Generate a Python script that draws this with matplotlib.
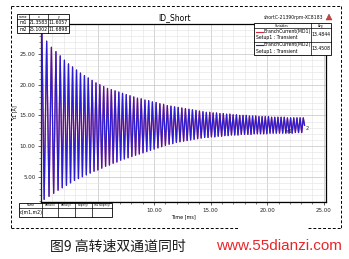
import matplotlib
matplotlib.use("Agg")
import matplotlib.pyplot as plt
from matplotlib.patches import Rectangle, Polygon
from matplotlib.ticker import MultipleLocator, FormatStrFormatter
import numpy as np

# ---------------------------------------------------------------------------
# Data (BranchCurrent, A vs. time, ms)
# ---------------------------------------------------------------------------
peak_t = [0.05, 0.50, 0.92, 1.32, 1.70, 2.07, 2.43, 2.79, 3.14, 3.49,
          3.84, 4.18, 4.52, 4.86, 5.20, 5.54, 5.88, 6.22, 6.55, 6.88,
          7.21, 7.54, 7.87, 8.20, 8.53, 8.86, 9.19, 9.52, 9.85, 10.18,
          10.51, 10.84, 11.17, 11.49, 11.81, 12.13, 12.45, 12.77, 13.08, 13.39,
          13.70, 14.01, 14.32, 14.62, 14.92, 15.22, 15.52, 15.82, 16.12, 16.41,
          16.70, 16.99, 17.28, 17.57, 17.86, 18.15, 18.43, 18.71, 18.99, 19.27,
          19.55, 19.83, 20.11, 20.39, 20.67, 20.95, 21.23, 21.51, 21.79, 22.07,
          22.35, 22.63, 22.91, 23.19]
peak_v = [33.0, 27.1, 26.1, 25.4, 24.7, 24.0, 23.4, 22.9, 22.4, 21.9,
          21.5, 21.1, 20.7, 20.3, 20.0, 19.7, 19.4, 19.2, 19.0, 18.8,
          18.6, 18.4, 18.2, 18.0, 17.8, 17.7, 17.5, 17.4, 17.2, 17.1,
          16.9, 16.8, 16.6, 16.5, 16.4, 16.3, 16.2, 16.1, 16.0, 15.9,
          15.8, 15.7, 15.6, 15.5, 15.5, 15.4, 15.4, 15.3, 15.3, 15.2,
          15.2, 15.1, 15.1, 15.0, 15.0, 15.0, 14.9, 14.9, 14.9, 14.8,
          14.8, 14.8, 14.8, 14.7, 14.7, 14.7, 14.7, 14.7, 14.6, 14.6,
          14.6, 14.6, 14.6, 14.6]
trough_t = [0.28, 0.71, 1.12, 1.51, 1.88, 2.25, 2.61, 2.96, 3.31, 3.66,
            4.01, 4.35, 4.69, 5.03, 5.37, 5.71, 6.05, 6.38, 6.71, 7.04,
            7.37, 7.70, 8.03, 8.36, 8.69, 9.02, 9.35, 9.68, 10.01, 10.34,
            10.67, 11.00, 11.33, 11.65, 11.97, 12.29, 12.61, 12.92, 13.23, 13.54,
            13.85, 14.16, 14.47, 14.77, 15.07, 15.37, 15.67, 15.97, 16.26, 16.55,
            16.84, 17.13, 17.42, 17.71, 18.00, 18.29, 18.57, 18.85, 19.13, 19.41,
            19.69, 19.97, 20.25, 20.53, 20.81, 21.09, 21.37, 21.65, 21.93, 22.21,
            22.49, 22.77, 23.05, 23.30]
trough_v = [1.3, 1.8, 2.3, 2.8, 3.2, 3.6, 4.0, 4.4, 4.7, 5.0,
            5.3, 5.6, 5.9, 6.1, 6.4, 6.7, 6.9, 7.2, 7.4, 7.7,
            7.9, 8.1, 8.3, 8.5, 8.7, 8.9, 9.1, 9.3, 9.5, 9.7,
            9.9, 10.1, 10.3, 10.4, 10.6, 10.7, 10.8, 10.9, 11.0, 11.1,
            11.2, 11.3, 11.4, 11.4, 11.5, 11.5, 11.6, 11.6, 11.7, 11.7,
            11.8, 11.8, 11.8, 11.9, 11.9, 11.9, 11.9, 12.0, 12.0, 12.0,
            12.0, 12.0, 12.1, 12.1, 12.1, 12.1, 12.1, 12.1, 12.1, 12.1,
            12.2, 12.2, 12.2, 13.4]
start_t, start_v = 0.0, 1.0

marker_names = ["m1", "m2"]
marker_x = ["21.3583", "25.1002"]
marker_y = ["11.6057", "11.6898"]
marker_pos = [(21.5, 12.3), (23.4, 12.9)]   # where the marker tags sit on the trace

trace_names = ["BranchCurrent(MD1)", "BranchCurrent(MD2)"]
trace_setup = ["Setup1 : Transient", "Setup1 : Transient"]
trace_avg = ["13.4844", "13.4508"]
trace_colors = ["#d8283a", "#1c1ce0"]

delta_cols = ["Name", "delta(x)", "delta(y)", "slope(y)", "inv slope(y)"]
delta_row = ["d(m1,m2)"]

plot_title = "ID_Short"
design_tag = "shortC-21390rpm-XC8183"
caption = "图9 高转速双通道同时"
watermark = "www.55dianzi.com"

# build the trace: start point then alternating peak / trough
t = np.concatenate([[start_t], np.ravel(np.column_stack([peak_t, trough_t]))])
v = np.concatenate([[start_v], np.ravel(np.column_stack([peak_v, trough_v]))])

# ---------------------------------------------------------------------------
# Figure
# ---------------------------------------------------------------------------
W, H = 349, 259
fig = plt.figure(figsize=(W / 100, H / 100), dpi=100)
fig.patch.set_facecolor("white")

ax = fig.add_axes([41 / W, 1 - 202 / H, (326 - 41) / W, (202 - 24) / H])
# MD1 and MD2 lie on top of each other; MD2 (blue) is drawn last
ax.plot(t, v, color=trace_colors[0], lw=0.9, zorder=2)
ax.plot(t, v, color=trace_colors[1], lw=0.9, alpha=0.92, zorder=3)
for name, (mx, my) in zip(marker_names, marker_pos):
    ax.text(mx, my, name if name == "m1" else name[-1], fontsize=3.5,
            color="#202020", ha="left", va="center", zorder=4)

ax.set_xlim(0, 25.2)
ax.set_ylim(0.88, 29.9)
ax.xaxis.set_major_locator(MultipleLocator(5))
ax.xaxis.set_minor_locator(MultipleLocator(1))
ax.yaxis.set_major_locator(MultipleLocator(5))
ax.yaxis.set_minor_locator(MultipleLocator(1))
ax.xaxis.set_major_formatter(FormatStrFormatter("%.2f"))
ax.yaxis.set_major_formatter(FormatStrFormatter("%.2f"))
ax.tick_params(which="major", labelsize=4, length=2.5, width=0.5,
               direction="out", pad=1.5, colors="#202020")
ax.tick_params(which="minor", length=1.3, width=0.4, direction="out",
               colors="#202020")
ax.grid(which="major", color="#c4c4c4", lw=0.5)
ax.grid(which="minor", color="#e2e2e2", lw=0.4)
ax.set_axisbelow(True)
for s in ax.spines.values():
    s.set_linewidth(0.9)
ax.set_xlabel("Time [ms]", fontsize=3.5, labelpad=1)
ax.set_ylabel("Y1 [A]", fontsize=3.5, labelpad=2)

# the delta table sits over the 0.00 / 5.00 labels, so they are not shown
fig.canvas.draw()
for lab in ax.get_xticklabels():
    if lab.get_position()[0] < 7:
        lab.set_visible(False)

# overlay in pixel coordinates for the frame, tables and captions
ov = fig.add_axes([0, 0, 1, 1], zorder=10)
ov.set_xlim(0, W)
ov.set_ylim(H, 0)
ov.axis("off")
ov.patch.set_alpha(0)

# dashed frame with a gap under the watermark
dash = dict(color="black", lw=0.7, ls=(0, (3, 2)))
ov.plot([11, 341], [6, 6], **dash)
ov.plot([11, 11], [6, 228], **dash)
ov.plot([341, 341], [6, 228], **dash)
ov.plot([11, 238], [228, 228], **dash)
ov.plot([308, 341], [228, 228], **dash)

ov.text(175, 18, plot_title, fontsize=5.5, ha="center", va="center")
ov.text(323, 17, design_tag, fontsize=3.3, ha="right", va="center", color="#101010")
ov.add_patch(Polygon([[326, 20], [332, 20], [329, 14]], closed=True,
                     fc="#d04040", ec="#803030", lw=0.3))

# marker table (top-left)
tb = dict(fc="white", ec="black", lw=0.6)
ov.add_patch(Rectangle((17, 14), 52, 19, **tb))
for yy in (19, 26):
    ov.plot([17, 69], [yy, yy], color="black", lw=0.5)
for xx in (29, 48):
    ov.plot([xx, xx], [14, 33], color="black", lw=0.5)
for cx, lab in zip((23, 38.5, 58.5), ("name", "x", "y")):
    ov.text(cx, 16.6, lab, fontsize=2.2, ha="center", va="center")
for i, (n, mx, my) in enumerate(zip(marker_names, marker_x, marker_y)):
    yy = 22.6 + 7 * i
    ov.text(23, yy, n, fontsize=3.3, ha="center", va="center")
    ov.text(38.5, yy, mx, fontsize=3.3, ha="center", va="center")
    ov.text(58.5, yy, my, fontsize=3.3, ha="center", va="center")

# trace legend table (top-right)
ov.add_patch(Rectangle((254, 23), 77, 32, **tb))
ov.plot([254, 331], [28, 28], color="black", lw=0.5)
ov.plot([254, 331], [41.5, 41.5], color="black", lw=0.5)
ov.plot([311, 311], [23, 55], color="black", lw=0.5)
ov.text(282, 25.6, "Variables", fontsize=2.2, ha="center", va="center")
ov.text(321, 25.6, "Avg", fontsize=2.2, ha="center", va="center")
for i in range(2):
    y0 = 28 + 13.5 * i
    ov.plot([256, 263], [y0 + 3.5, y0 + 3.5], color=trace_colors[i], lw=0.8)
    ov.text(264, y0 + 3.3, trace_names[i], fontsize=3.3, ha="left", va="center")
    ov.text(256, y0 + 9.5, trace_setup[i], fontsize=3.3, ha="left", va="center")
    ov.text(321, y0 + 7, trace_avg[i], fontsize=3.3, ha="center", va="center")

# delta table (bottom-left)
ov.add_patch(Rectangle((19, 203), 93, 14, **tb))
ov.plot([19, 112], [207.5, 207.5], color="black", lw=0.5)
col_x = [19, 42, 58, 75, 92, 112]
for xx in col_x[1:-1]:
    ov.plot([xx, xx], [203, 217], color="black", lw=0.5)
for i, lab in enumerate(delta_cols):
    ov.text((col_x[i] + col_x[i + 1]) / 2, 205.3, lab, fontsize=2.0,
            ha="center", va="center")
ov.text(20, 212.3, delta_row[0], fontsize=3.3, ha="left", va="center")

# caption and watermark
ov.text(50, 247, caption, fontsize=10, ha="left", va="center", color="#1a1a1a",
        family=["Noto Sans CJK SC", "DejaVu Sans"])
ov.add_patch(Rectangle((184, 236), 30, 22, fc="white", ec="none"))
ov.text(279, 246, watermark, fontsize=11, ha="center", va="center",
        color="#e8262a", family=["Liberation Sans", "DejaVu Sans"])

fig.savefig("out.png", dpi=100)
